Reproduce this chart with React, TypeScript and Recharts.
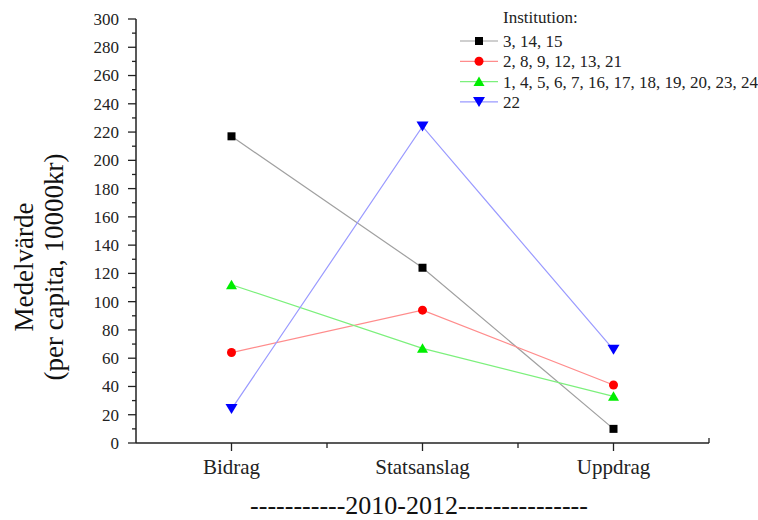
import React from 'react';
import { LineChart, Line, XAxis, YAxis } from 'recharts';

const categories = ['Bidrag', 'Statsanslag', 'Uppdrag'];
const group1 = [217, 124, 10];
const group2 = [64, 94, 41];
const group3 = [112, 67, 33];
const group4 = [24, 224, 66];
const seriesNames = ['3, 14, 15', '2, 8, 9, 12, 13, 21', '1, 4, 5, 6, 7, 16, 17, 18, 19, 20, 23, 24', '22'];
const yTicks = Array.from({ length: 31 }, (_, i) => i * 10);
const xTicks = [1, 1.5, 2, 2.5, 3, 3.5];

const FONT = '"Liberation Serif", "Times New Roman", serif';

const data = categories.map((c, i) => ({
  x: i + 1,
  name: c,
  g1: group1[i],
  g2: group2[i],
  g3: group3[i],
  g4: group4[i],
}));

type Shape = 'square' | 'circle' | 'up' | 'down';
const series: { key: string; name: string; line: string; marker: string; shape: Shape }[] = [
  { key: 'g1', name: seriesNames[0], line: '#a0a0a0', marker: '#000000', shape: 'square' },
  { key: 'g2', name: seriesNames[1], line: '#ff8c8c', marker: '#ff0000', shape: 'circle' },
  { key: 'g3', name: seriesNames[2], line: '#7cf07c', marker: '#00ee00', shape: 'up' },
  { key: 'g4', name: seriesNames[3], line: '#9a9aff', marker: '#0000ff', shape: 'down' },
];

function Marker({ shape, cx, cy, color }: { shape: Shape; cx: number; cy: number; color: string }) {
  if (shape === 'square') return <rect x={cx - 4} y={cy - 4} width={8} height={8} fill={color} />;
  if (shape === 'circle') return <circle cx={cx} cy={cy} r={4.5} fill={color} />;
  if (shape === 'up')
    return <polygon points={`${cx - 5.5},${cy + 4.5} ${cx + 5.5},${cy + 4.5} ${cx},${cy - 5}`} fill={color} />;
  return <polygon points={`${cx - 6},${cy - 5} ${cx + 6},${cy - 5} ${cx},${cy + 5}`} fill={color} />;
}

const YTick = (props: any) => {
  const { x, y, payload } = props;
  const axisX = x + 10;
  const v = payload.value;
  const major = v % 20 === 0;
  return (
    <g>
      <line x1={axisX} x2={axisX - (major ? 8 : 4)} y1={y} y2={y} stroke="#222" strokeWidth={1.3} />
      {major && (
        <text x={axisX - 17} y={y} dy="0.35em" textAnchor="end" fontFamily={FONT} fontSize={17} fill="#222">
          {v}
        </text>
      )}
    </g>
  );
};

const XTick = (props: any) => {
  const { x, y, payload } = props;
  const axisY = y - 10;
  const v = payload.value;
  if (v === 3.5) {
    return <line x1={x} x2={x} y1={axisY} y2={axisY - 5} stroke="#222" strokeWidth={1.3} />;
  }
  const major = Number.isInteger(v);
  return (
    <g>
      <line x1={x} x2={x} y1={axisY} y2={axisY + (major ? 8 : 5)} stroke="#222" strokeWidth={1.3} />
      {major && (
        <text x={x} y={axisY + 31} textAnchor="middle" fontFamily={FONT} fontSize={21} fill="#222">
          {categories[v - 1]}
        </text>
      )}
    </g>
  );
};

const YLabel = () => (
  <g fontFamily={FONT} fontSize={27} fill="#111">
    <text x={33} y={267} textAnchor="middle" transform="rotate(-90, 33, 267)">
      Medelvärde
    </text>
    <text x={63} y={267} textAnchor="middle" transform="rotate(-90, 63, 267)">
      (per capita, 10000kr)
    </text>
  </g>
);

const XLabel = () => (
  <text x={419} y={514} textAnchor="middle" fontFamily={FONT} fontSize={26} fill="#111">
    -----------2010-2012---------------
  </text>
);

const LegendBox = () => (
  <svg width={318} height={115} style={{ position: 'absolute', left: 440, top: 0, display: 'block' }}>
    <text x={63} y={23} fontFamily={FONT} fontSize={17} fill="#222">
      Institution:
    </text>
    {series.map((s, i) => {
      const cy = 41 + i * 20.3;
      return (
        <g key={s.key}>
          <line x1={20} x2={58} y1={cy} y2={cy} stroke={s.line} strokeWidth={1.2} />
          <Marker shape={s.shape} cx={39} cy={cy} color={s.marker} />
          <text x={63} y={cy + 6} fontFamily={FONT} fontSize={17} fill="#222">
            {s.name}
          </text>
        </g>
      );
    })}
  </svg>
);

export default function App() {
  return (
    <div style={{ position: 'absolute', left: 0, top: 0, width: 758, height: 520, background: '#fff' }}>
      <LineChart width={758} height={520} data={data} margin={{ top: 19, right: 49, bottom: 0, left: 0 }}>
        <XAxis
          dataKey="x"
          type="number"
          domain={[0.5, 3.5]}
          ticks={xTicks}
          interval={0}
          height={77}
          tickSize={8}
          tickMargin={2}
          tickLine={false}
          tick={<XTick />}
          axisLine={{ stroke: '#222', strokeWidth: 1.5 }}
          label={{ content: () => <XLabel /> }}
        />
        <YAxis
          type="number"
          domain={[0, 300]}
          ticks={yTicks}
          interval={0}
          width={136}
          tickSize={8}
          tickMargin={2}
          tickLine={false}
          tick={<YTick />}
          axisLine={{ stroke: '#222', strokeWidth: 1.5 }}
          label={{ content: () => <YLabel /> }}
        />
        {series.map((s) => (
          <Line
            key={s.key}
            dataKey={s.key}
            name={s.name}
            type="linear"
            stroke={s.line}
            strokeWidth={1.2}
            isAnimationActive={false}
            dot={(p: any) => <Marker key={`${s.key}-${p.index}`} shape={s.shape} cx={p.cx} cy={p.cy} color={s.marker} />}
            activeDot={false}
          />
        ))}
      </LineChart>
      <LegendBox />
    </div>
  );
}
